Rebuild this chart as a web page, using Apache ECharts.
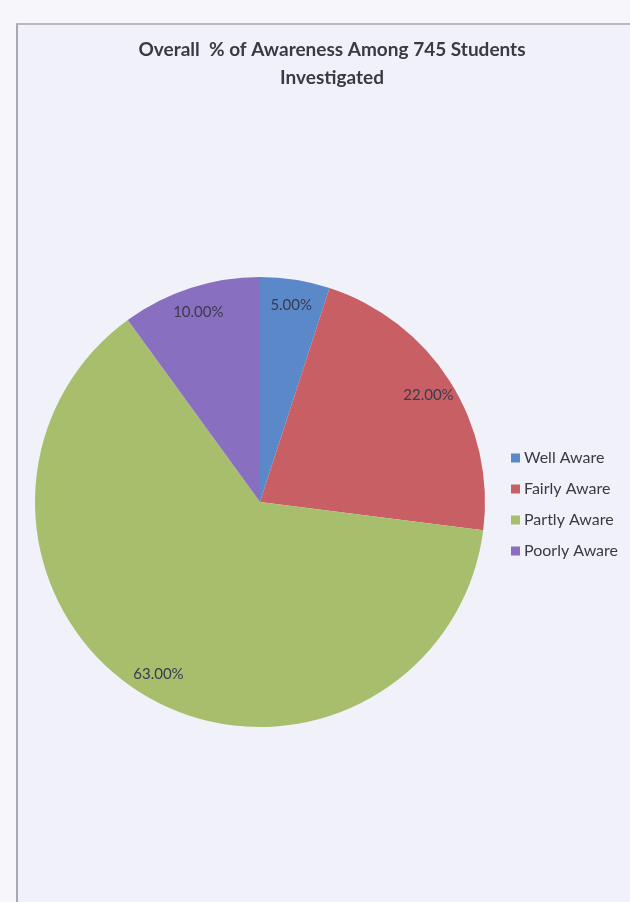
<!DOCTYPE html>
<html>
<head>
<meta charset="utf-8">
<script src="https://cdn.jsdelivr.net/npm/echarts@6/dist/echarts.min.js"></script>
<style>
html,body{margin:0;padding:0;background:#f6f6fb;width:630px;height:902px;overflow:hidden;}
#frame{position:absolute;left:16px;top:23px;width:620px;height:890px;border-left:2px solid #a9a9b3;border-top:2px solid #b9b9c3;background:#f1f1f9;}
#chart{position:absolute;left:0;top:0;width:630px;height:902px;}
</style>
</head>
<body>
<div id="frame"></div>
<div id="chart"></div>
<script>
const categories = ['Well Aware', 'Fairly Aware', 'Partly Aware', 'Poorly Aware'];
const percentValues = [5, 22, 63, 10];
const sliceColors = ['#5b88c9', '#c85f64', '#a7bf6d', '#896fbf'];
const titleText = 'Overall  % of Awareness Among 745 Students\nInvestigated';

const chart = echarts.init(document.getElementById('chart'), null, {renderer: 'canvas'});
const pieData = categories.map((c, i) => ({name: c, value: percentValues[i], itemStyle: {color: sliceColors[i]}}));
const labelData = categories.map((c, i) => ({name: c, value: percentValues[i], itemStyle: {color: 'rgba(0,0,0,0)'}}));

chart.setOption({
  backgroundColor: 'transparent',
  animation: false,
  title: {
    text: titleText,
    left: 327,
    top: 31,
    textAlign: 'center',
    textStyle: {fontFamily: 'Lato', fontWeight: 'bold', fontSize: 19, color: '#3a3a44', lineHeight: 28}
  },
  legend: {
    orient: 'vertical',
    left: 506,
    top: 444,
    itemWidth: 9,
    itemHeight: 9,
    itemGap: 13,
    icon: 'rect',
    data: categories,
    textStyle: {fontFamily: 'Lato', fontSize: 16, color: '#3a3a44', lineHeight: 18, padding: [0, 0, 0, -1]}
  },
  series: [
    {
      type: 'pie',
      center: [260, 502],
      radius: [0, 225],
      startAngle: 90,
      clockwise: true,
      silent: true,
      label: {show: false},
      labelLine: {show: false},
      data: pieData
    },
    {
      type: 'pie',
      center: [260, 502],
      radius: [168, 225],
      startAngle: 90,
      clockwise: true,
      silent: true,
      legendHoverLink: false,
      label: {
        show: true,
        position: 'inside',
        formatter: p => p.value.toFixed(2) + '%',
        fontFamily: 'Lato',
        fontSize: 15,
        color: '#3a3a50'
      },
      labelLine: {show: false},
      data: labelData
    }
  ]
});
</script>
</body>
</html>
